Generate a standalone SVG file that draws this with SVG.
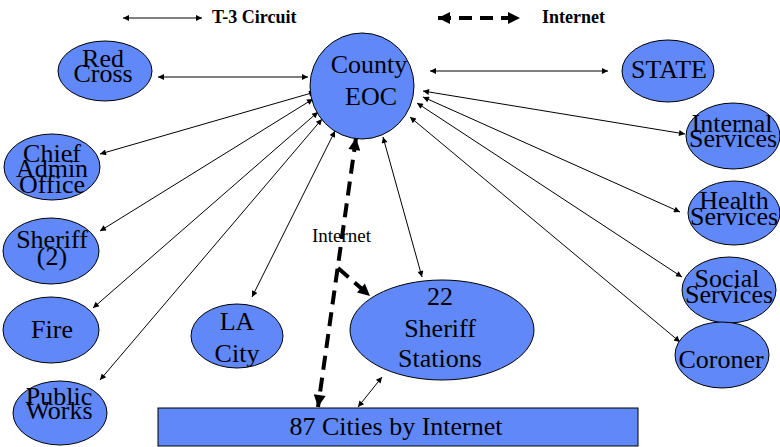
<svg xmlns="http://www.w3.org/2000/svg" width="780" height="447" viewBox="0 0 780 447">
<style>
.n{fill:#6088f8;stroke:#000;stroke-width:1}
.c{stroke:#000;stroke-width:1;fill:none;marker-start:url(#a);marker-end:url(#a)}
.d{stroke:#000;stroke-width:4;fill:none;stroke-dasharray:14 8}
</style>
<defs>
<marker id="a" viewBox="0 0 10 10" refX="10" refY="5" markerWidth="8" markerHeight="6" markerUnits="userSpaceOnUse" orient="auto-start-reverse"><path d="M0,0L10,5L0,10z" fill="#000"/></marker>
<marker id="b" viewBox="0 0 10 10" refX="10" refY="5" markerWidth="14" markerHeight="12" markerUnits="userSpaceOnUse" orient="auto-start-reverse"><path d="M0,0L10,5L0,10z" fill="#000"/></marker>
</defs>
<g id="legend">
<line x1="123" y1="18" x2="202" y2="18" class="c"/>
<text x="212" y="23" font-family="Liberation Serif, serif" font-size="18" font-weight="bold" fill="#000">T-3 Circuit</text>
<line x1="438" y1="18" x2="520" y2="18" stroke="#000" stroke-width="4" stroke-dasharray="13 8" marker-start="url(#b)" marker-end="url(#b)"/>
<text x="542" y="23" font-family="Liberation Serif, serif" font-size="18" font-weight="bold" fill="#000">Internet</text>
</g>
<g id="connectors">
<line x1="158" y1="77" x2="308" y2="77" class="c"/>
<line x1="315" y1="92" x2="100" y2="154" class="c"/>
<line x1="313" y1="99" x2="100" y2="231" class="c"/>
<line x1="318" y1="112" x2="93" y2="308" class="c"/>
<line x1="322" y1="119" x2="100" y2="380" class="c"/>
<line x1="335" y1="131" x2="252" y2="297" class="c"/>
<line x1="430" y1="71" x2="608" y2="71" class="c"/>
<line x1="423" y1="91" x2="685" y2="134" class="c"/>
<line x1="423" y1="97" x2="680" y2="212" class="c"/>
<line x1="417" y1="103" x2="682" y2="277" class="c"/>
<line x1="410" y1="117" x2="680" y2="342" class="c"/>
<line x1="383" y1="137" x2="422" y2="277" class="c"/>
<line x1="382" y1="377" x2="358" y2="407" class="c"/>
<line x1="356" y1="138" x2="318" y2="407" class="d" marker-start="url(#b)" marker-end="url(#b)"/>
<line x1="338" y1="268" x2="370" y2="296" class="d" marker-end="url(#b)"/>
<text x="312" y="242" font-family="Liberation Serif, serif" font-size="19" fill="#000">Internet</text>
</g>
<g font-family="Liberation Serif, serif" font-size="26" text-anchor="middle" fill="#000">
<g id="county-eoc">
<ellipse cx="362" cy="86" rx="52" ry="53" class="n"/>
<text x="369" y="73">County</text>
<text x="371" y="105">EOC</text>
</g>
<g id="red-cross">
<ellipse cx="105" cy="71" rx="47" ry="30" class="n"/>
<text x="103" y="67">Red</text>
<text x="103" y="82">Cross</text>
</g>
<g id="chief-admin-office">
<ellipse cx="52" cy="167" rx="48" ry="33" class="n"/>
<text x="52" y="162">Chief</text>
<text x="52" y="177">Admin</text>
<text x="52" y="193">Office</text>
</g>
<g id="sheriff-2">
<ellipse cx="51" cy="251" rx="48" ry="33" class="n"/>
<text x="52" y="248">Sheriff</text>
<text x="52" y="265">(2)</text>
</g>
<g id="fire">
<ellipse cx="51" cy="330" rx="48" ry="33" class="n"/>
<text x="52" y="338">Fire</text>
</g>
<g id="public-works">
<ellipse cx="60" cy="413" rx="47" ry="32" class="n"/>
<text x="59" y="405">Public</text>
<text x="59" y="419">Works</text>
</g>
<g id="state">
<ellipse cx="668" cy="71" rx="46" ry="31" class="n"/>
<text x="669" y="78">STATE</text>
</g>
<g id="internal-services">
<ellipse cx="733" cy="136" rx="47" ry="33" class="n"/>
<text x="732" y="132">Internal</text>
<text x="733" y="147">Services</text>
</g>
<g id="health-services">
<ellipse cx="734" cy="213" rx="46" ry="32" class="n"/>
<text x="734" y="209">Health</text>
<text x="734" y="225">Services</text>
</g>
<g id="social-services">
<ellipse cx="729" cy="290" rx="47" ry="33" class="n"/>
<text x="727" y="287">Social</text>
<text x="729" y="303">Services</text>
</g>
<g id="coroner">
<ellipse cx="722" cy="355" rx="47" ry="33" class="n"/>
<text x="721" y="368">Coroner</text>
</g>
<g id="la-city">
<ellipse cx="237" cy="336" rx="46" ry="32" class="n"/>
<text x="237" y="330">LA</text>
<text x="237" y="362">City</text>
</g>
<g id="sheriff-stations">
<ellipse cx="442" cy="330" rx="92" ry="50" class="n"/>
<text x="440" y="305">22</text>
<text x="440" y="337">Sheriff</text>
<text x="440" y="367">Stations</text>
</g>
<g id="cities">
<rect x="158" y="408" width="480" height="38" class="n"/>
<text x="396" y="435">87 Cities by Internet</text>
</g>
</g>
</svg>
